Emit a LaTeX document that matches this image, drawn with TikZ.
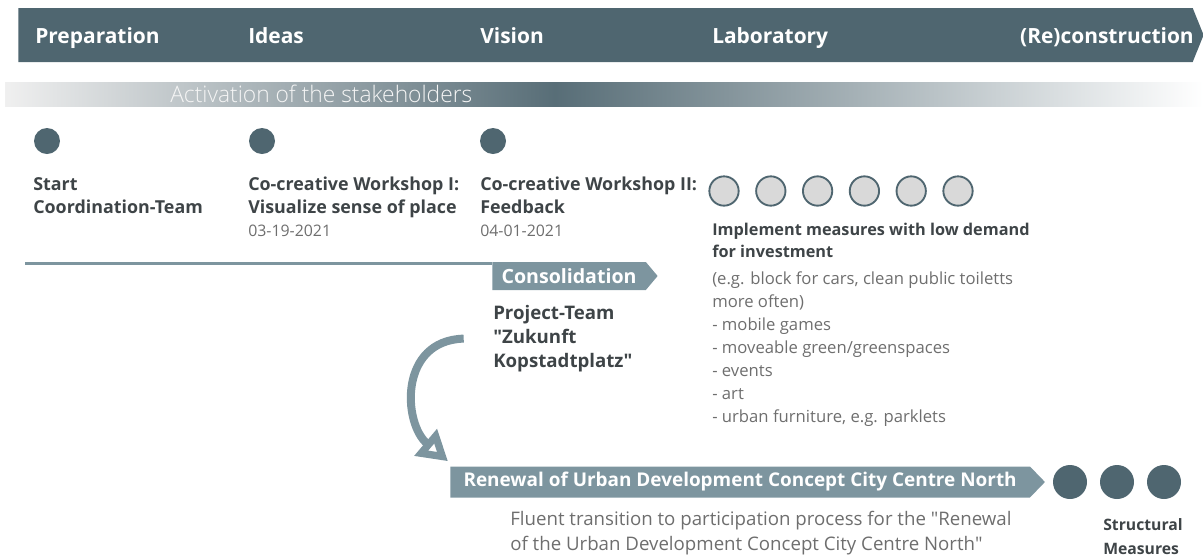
\documentclass[tikz,border=0pt]{standalone}
\usepackage{fontspec}
\setmainfont{Open Sans}
\newfontfamily\lightfont{Open Sans Light}
\newfontfamily\quotefont{Open Sans}
\usepackage{tikz}
\usetikzlibrary{shapes.symbols,arrows.meta,positioning}

\definecolor{slate}{HTML}{4F6670}
\definecolor{steel}{HTML}{7D959F}
\definecolor{ink}{HTML}{3E4447}
\definecolor{note}{HTML}{6E6E6E}
\definecolor{pale}{HTML}{D9D9D9}
\newcommand{\qt}{{\quotefont"}}

\tikzset{
  dot/.style={circle,fill=slate,minimum size=19.5pt,inner sep=0},
  ring/.style={circle,draw=slate,fill=pale,line width=1.4pt,minimum size=22pt,inner sep=0},
  phase/.style={anchor=base west,text=white,inner sep=0,font=\bfseries\fontsize{15.7}{18}\selectfont},
  head/.style={anchor=north west,inner sep=0,align=left,text=ink,font=\bfseries\fontsize{13.4}{17.25}\selectfont},
  body/.style={anchor=north west,inner sep=0,align=left,text=note,font=\fontsize{12.5}{17.25}\selectfont},
  sig/.style={signal,signal to=east,fill=steel,text=white,inner sep=0,anchor=west,
    font=\bfseries\fontsize{14.2}{16}\selectfont}
}

\begin{document}
\begin{tikzpicture}[x=0.75pt,y=-0.75pt]
    \useasboundingbox (0,0) rectangle (1203,558);

    % phases
    \node[signal,signal to=east,fill=slate,anchor=west,minimum width=889pt,
          minimum height=40.5pt,signal pointer angle=136] (hdr) at (18,35) {};
    \foreach \x/\t in {35/Preparation,248/Ideas,480/Vision,712/Laboratory}
        \node[phase] at (\x,43) {\t};
    \node[phase,anchor=base east] (recon) at (1194,43) {(Re)construction};

    % activation band
    \shade[left color=gray!12,right color=slate!95] (5,82) rectangle (555,106);
    \shade[left color=slate!95,right color=white] (555,82) rectangle (1203,106);
    \node[anchor=west,inner sep=0,text=white!92!gray,font=\lightfont\fontsize{17.1}{19}\selectfont] (act) at (170,94) {Activation of the stakeholders};

    % milestones
    \node[dot] (d1) at (47,141) {};
    \node[dot] (d2) at (262,141) {};
    \node[dot] (d3) at (493,141) {};
    \foreach \i in {0,...,5}
        \node[ring] (r\i) at (724+46.8*\i,191) {};

    \node[head] (start) at (33,177) {Start\\Coordination-Team};
    \node[head] (ws1) at (248,177) {Co-creative Workshop I:\\Visualize sense of place\\{\mdseries\color{note}\fontsize{11.9}{17.25}\selectfont 03-19-2021}};
    \node[head] (ws2) at (480,177) {Co-creative Workshop II:\\Feedback\\{\mdseries\color{note}\fontsize{11.9}{17.25}\selectfont 04-01-2021}};
    \node[head,font=\bfseries\fontsize{12.2}{16.5}\selectfont] (impl) at (712,223) {Implement measures with low demand\\for investment};
    \node[body] (list) at (712,271) {(e.g. block for cars, clean public toiletts\\more often)\\- mobile games\\- moveable green/greenspaces\\- events\\- art\\- urban furniture, e.g. parklets};

    % consolidation
    \node[sig,minimum width=124pt,minimum height=21pt,signal pointer angle=100,
          font=\bfseries\fontsize{14.7}{16}\selectfont] (cons) at (492,276) {Consolidation};
    \coordinate (rule) at (25,263);
    \draw[steel,line width=2.25pt] (rule) -- (cons.north west |- rule);
    \node[head,font=\bfseries\fontsize{14}{18}\selectfont] (team) at (493,305) {Project-Team\\\qt Zukunft\\Kopstadtplatz\qt};

    % renewal
    \node[sig,minimum width=446pt,minimum height=23.25pt,signal pointer angle=92] (renewal) at (450,482) {Renewal of Urban Development Concept City Centre North};
    \draw[steel,line width=6pt,-{Triangle[open,length=22pt,width=25pt]}]
        ([xshift=-22]team.west) .. controls +(-65,2) and +(-45,-38) .. ([shift={(-2,-5)}]renewal.north west);
    \node[body,font=\fontsize{14}{18.75}\selectfont] (fluent) at (510,511) {Fluent transition to participation process for the \qt Renewal\\of the Urban Development Concept City Centre North\qt};

    % structural measures
    \foreach \i in {0,1,2}
        \node[dot,minimum size=25.5pt] (s\i) at (1070+47*\i,482) {};
    \node[head,font=\bfseries\fontsize{11.8}{18}\selectfont] (struct) at (1103,518) {Structural\\Measures};
\end{tikzpicture}
\end{document}
